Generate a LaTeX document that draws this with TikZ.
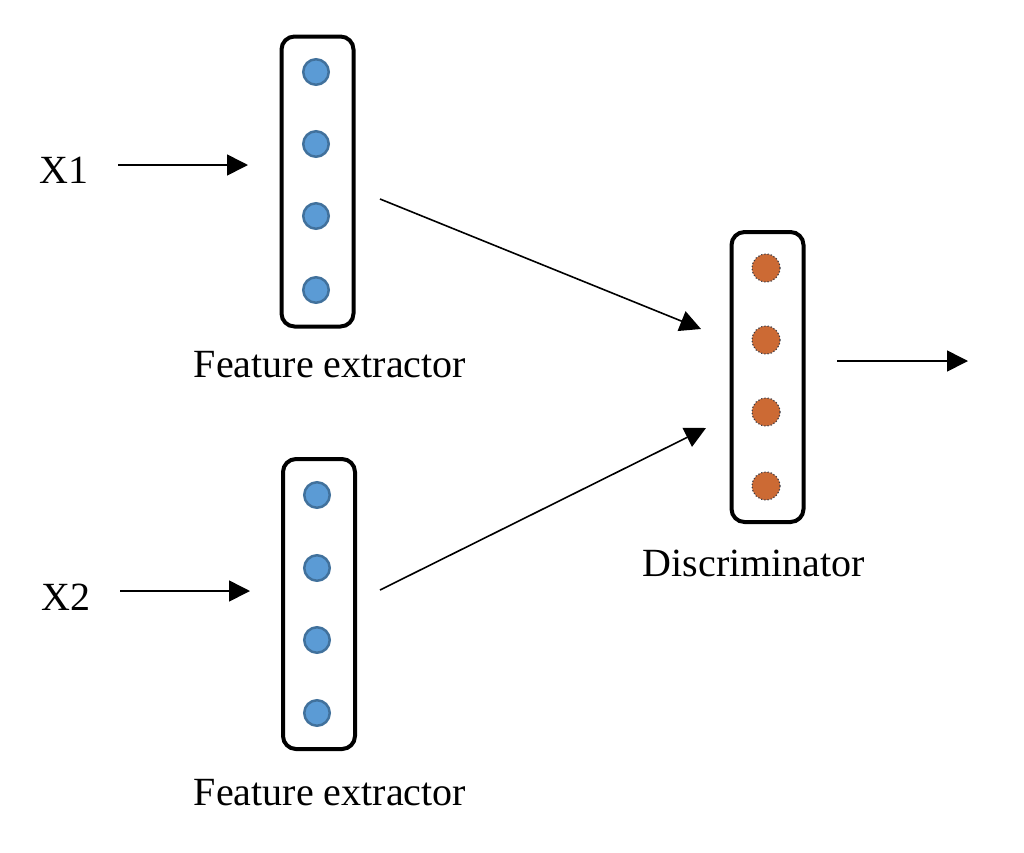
\documentclass[tikz,border=0pt]{standalone}
\usepackage{fontspec}
\setmainfont{Liberation Serif}
\usetikzlibrary{arrows.meta}
\definecolor{bluefill}{RGB}{91,155,213}
\definecolor{blueedge}{RGB}{65,113,156}
\definecolor{orangefill}{RGB}{204,106,52}
\definecolor{orangeedge}{RGB}{60,60,70}
\begin{document}
\begin{tikzpicture}[x=1pt,y=-1pt,
  layerbox/.style={draw=black,line width=4pt,rounded corners=13pt,minimum width=72pt,minimum height=290pt,inner sep=0pt},
  bluedot/.style={circle,fill=bluefill,draw=blueedge,line width=2.5pt,minimum size=25.5pt,inner sep=0pt},
  orangedot/.style={circle,fill=orangefill,draw=orangeedge,dotted,line width=1.2pt,minimum size=28pt,inner sep=0pt},
  lbl/.style={font=\fontsize{40}{48}\selectfont,inner sep=0pt},
  conn/.style={line width=1.6pt,-{Triangle[length=21pt,width=21pt]}}]
\useasboundingbox (0,0) rectangle (1024,852);
% boxes
\node[layerbox] (fe1) at (317.5,181.5) {};
\node[layerbox] (fe2) at (319,604) {};
\node[layerbox] (disc) at (767.5,377) {};
% dots
\node[bluedot] (a1) at (316,72) {};
\node[bluedot] (a2) at (316,144) {};
\node[bluedot] (a3) at (316,216) {};
\node[bluedot] (a4) at (316,290) {};
\node[bluedot] (b1) at (317,495) {};
\node[bluedot] (b2) at (317,568) {};
\node[bluedot] (b3) at (317,640) {};
\node[bluedot] (b4) at (317,713) {};
\node[orangedot] (c1) at (766,268) {};
\node[orangedot] (c2) at (766,340) {};
\node[orangedot] (c3) at (766,412) {};
\node[orangedot] (c4) at (766,486) {};
% labels
\node[lbl] (x1) at (64,170) {X1};
\node[lbl] (x2) at (66,597) {X2};
\node[lbl] (l1) at (330,365) {Feature extractor};
\node[lbl] (l2) at (330,793) {Feature extractor};
\node[lbl] (l3) at (754,563) {Discriminator};
% connector ends
\coordinate (x1s) at (118,165);
\coordinate (x1e) at (248,165);
\coordinate (x2s) at (120,591);
\coordinate (x2e) at (250,591);
\coordinate (t1s) at (380,199);
\coordinate (t1e) at (701,329);
\coordinate (t2s) at (380,590);
\coordinate (t2e) at (706,428);
\coordinate (os) at (837,361);
\coordinate (oe) at (968,361);
\draw[conn] (x1s) -- (x1e);
\draw[conn] (x2s) -- (x2e);
\draw[conn] (t1s) -- (t1e);
\draw[conn] (t2s) -- (t2e);
\draw[conn] (os) -- (oe);
\end{tikzpicture}
\end{document}
